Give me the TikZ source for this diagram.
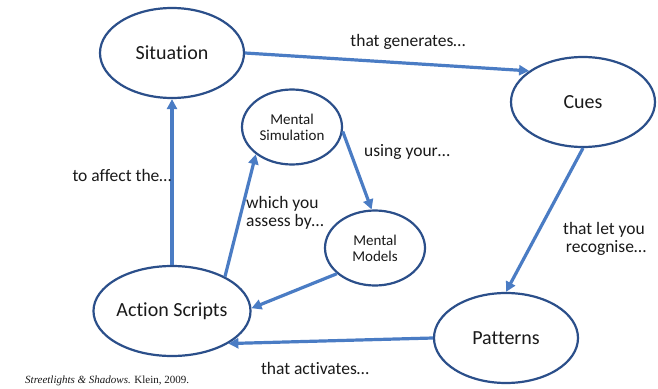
\documentclass[tikz,border=0pt]{standalone}
\usepackage{fontspec}
\setmainfont{Carlito}[Ligatures=NoCommon]
\newfontfamily\citefont{Liberation Serif}
\usetikzlibrary{shapes.geometric,arrows.meta}
\definecolor{ellborder}{HTML}{2B4F8A}
\definecolor{arrowblue}{HTML}{4A7CC4}
\definecolor{txt}{HTML}{1A1A1A}
\tikzset{
  bigell/.style={ellipse,draw=ellborder,line width=2.2pt,minimum width=144pt,minimum height=90pt,inner sep=0pt,font=\fontsize{20}{22}\selectfont,text=txt},
  smallell/.style={ellipse,draw=ellborder,line width=2.2pt,minimum width=100pt,minimum height=75pt,inner sep=0pt,font=\fontsize{15}{17}\selectfont,text=txt,align=center},
  conn/.style={draw=arrowblue,line width=3.2pt,-{Triangle[length=10pt,width=10pt]}},
  lbl/.style={font=\fontsize{17.5}{20}\selectfont,text=txt,inner sep=0pt}
}
\begin{document}
\begin{tikzpicture}[x=1pt,y=-1pt]
\useasboundingbox[fill=white] (0,0) rectangle (658,388);
\node[bigell] (sit) at (172,53) {Situation};
\node[bigell] (cues) at (583,102) {Cues};
\node[bigell] (act) at (172,311) {Action Scripts};
\node[bigell] (pat) at (506,338) {Patterns};
\node[smallell] (ms) at (292,127) {Mental\\[-1pt]Simulation};
\node[smallell] (mm) at (375,248) {Mental\\[-1pt]Models};

\draw[conn] (sit.east) -- (cues.150);
\draw[conn] (act.north) -- (sit.south);
\draw[conn] (act.33) -- (ms.217);
\draw[conn] (ms.-5) -- (mm.95);
\draw[conn] (mm.214) -- (act.2);
\draw[conn] (cues.south) -- (pat.north);
\draw[conn] (pat.west) -- (act.-30);

\node[lbl] (l1) at (408,42) {that generates\dots};
\node[lbl] (l2) at (122,175) {to affect the\dots};
\node[lbl] (l3) at (407,152) {using your\dots};
\node[lbl,align=left] (l4) at (285,213) {which you\\[-2pt]assess by\dots};
\node[lbl,align=center] (l5) at (606,239) {\hspace*{-4pt}that let you\\[-2pt]recognise\dots};
\node[lbl] (l6) at (315,368) {that activates\dots};
\node[font=\fontsize{11}{13}\selectfont\citefont,text=txt,anchor=west,inner sep=0pt] (cite) at (25,381) {\textit{Streetlights \& Shadows.} Klein, 2009.};
\end{tikzpicture}
\end{document}
